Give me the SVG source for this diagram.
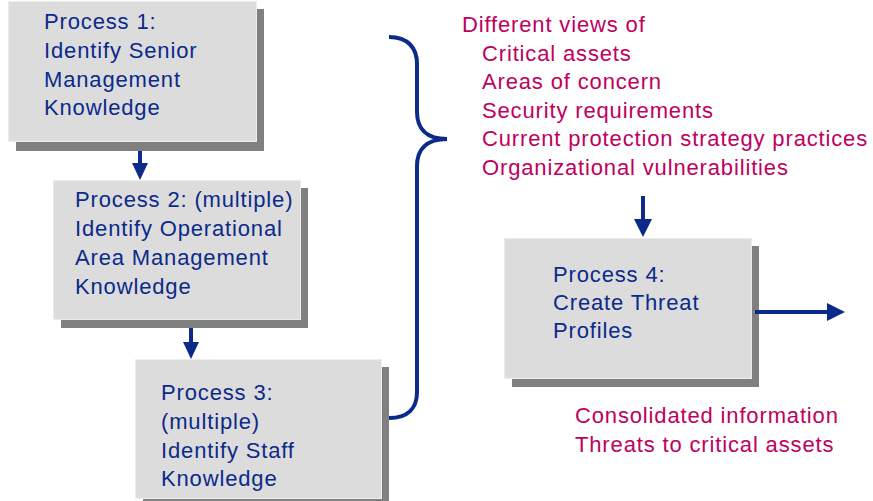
<svg xmlns="http://www.w3.org/2000/svg" width="873" height="501" viewBox="0 0 873 501">
  <style>
    .shadow { fill: #808080; }
    .box { fill: #dcdcdc; stroke: #ececec; stroke-width: 1; }
    .blue { font-family: "Liberation Sans", Arial, sans-serif; font-size: 22px; letter-spacing: 0.85px; fill: #0b2a8a; }
    .red { font-family: "Liberation Sans", Arial, sans-serif; font-size: 22px; letter-spacing: 0.85px; fill: #c0005e; }
    .line { stroke: #0b2a8a; stroke-width: 4; fill: none; }
    .head { fill: #0b2a8a; }
  </style>
  <rect width="873" height="501" fill="#ffffff"/>

  <g id="process1">
    <rect class="shadow" x="16" y="9" width="248" height="142"/>
    <rect class="box" x="8.5" y="1.5" width="248" height="140"/>
    <text class="blue" x="44" y="29">Process 1:</text>
    <text class="blue" x="44" y="58">Identify Senior</text>
    <text class="blue" x="44" y="87">Management</text>
    <text class="blue" x="44" y="115">Knowledge</text>
  </g>

  <g id="process2">
    <rect class="shadow" x="61" y="188" width="247" height="140"/>
    <rect class="box" x="53.5" y="180.5" width="247" height="139"/>
    <text class="blue" x="75" y="207">Process 2: (multiple)</text>
    <text class="blue" x="75" y="236">Identify Operational</text>
    <text class="blue" x="75" y="265">Area Management</text>
    <text class="blue" x="75" y="294">Knowledge</text>
  </g>

  <g id="process3">
    <rect class="shadow" x="143" y="367" width="246" height="140"/>
    <rect class="box" x="135.5" y="359.5" width="246" height="139"/>
    <text class="blue" x="161" y="400">Process 3:</text>
    <text class="blue" x="161" y="429">(multiple)</text>
    <text class="blue" x="161" y="458">Identify Staff</text>
    <text class="blue" x="161" y="486">Knowledge</text>
  </g>

  <g id="process4">
    <rect class="shadow" x="512" y="246" width="247" height="141"/>
    <rect class="box" x="504.5" y="238.5" width="247" height="140"/>
    <text class="blue" x="553" y="282">Process 4:</text>
    <text class="blue" x="553" y="310">Create Threat</text>
    <text class="blue" x="553" y="338">Profiles</text>
  </g>

  <g id="views">
    <text class="red" x="462" y="32">Different views of</text>
    <text class="red" x="482" y="61">Critical assets</text>
    <text class="red" x="482" y="89">Areas of concern</text>
    <text class="red" x="482" y="118">Security requirements</text>
    <text class="red" x="482" y="146">Current protection strategy practices</text>
    <text class="red" x="482" y="175">Organizational vulnerabilities</text>
  </g>

  <g id="outputs">
    <text class="red" x="575" y="423">Consolidated information</text>
    <text class="red" x="575" y="452">Threats to critical assets</text>
  </g>

  <g id="connectors">
    <!-- brace gathering the three knowledge processes -->
    <path class="line" stroke-width="5.5" d="M389,37 C408,37 417,48 417,64 L417,112 C417,128 426,139 447,139 C426,139 417,150 417,166 L417,392 C417,408 408,418 389,418"/>
    <!-- 1 to 2 -->
    <line class="line" x1="140" y1="151" x2="140" y2="165"/>
    <polygon class="head" points="132,163 148,163 140,180"/>
    <!-- 2 to 3 -->
    <line class="line" x1="191" y1="328" x2="191" y2="344"/>
    <polygon class="head" points="183,342 199,342 191,359"/>
    <!-- views to 4 -->
    <line class="line" x1="643" y1="196" x2="643" y2="221"/>
    <polygon class="head" points="634,219 652,219 643,237"/>
    <!-- 4 out -->
    <line class="line" x1="755" y1="312" x2="829" y2="312"/>
    <polygon class="head" points="827,303 827,321 845,312"/>
  </g>
</svg>
